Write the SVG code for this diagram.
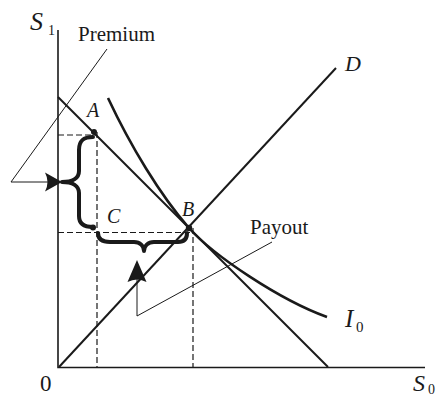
<svg xmlns="http://www.w3.org/2000/svg" width="443" height="398" viewBox="0 0 443 398">
<style>
.ax{stroke:#1a1a1a;stroke-width:1.6;fill:none}
.ln{stroke:#1a1a1a;stroke-width:2;fill:none}
.cv{stroke:#1a1a1a;stroke-width:2.6;fill:none}
.th{stroke:#1a1a1a;stroke-width:1;fill:none}
.ds{stroke:#1a1a1a;stroke-width:1.2;fill:none;stroke-dasharray:6,3}
.br{stroke:#1a1a1a;stroke-width:4;fill:none;stroke-linecap:round;stroke-linejoin:round}
.ah{fill:#1a1a1a;stroke:none}
.dot{fill:#1a1a1a}
text{font-family:"Liberation Serif","Times New Roman",serif;fill:#1a1a1a}
.it{font-style:italic}
</style>
<g id="axes">
<path class="ax" d="M58,30 V367.5 H425"/>
<text class="it" x="30" y="29.5" font-size="26">S</text>
<text x="48" y="35" font-size="14">1</text>
<text class="it" x="413" y="391" font-size="24">S</text>
<text x="428" y="394" font-size="14">0</text>
<text x="40" y="391" font-size="23">0</text>
</g>
<g id="budget-line">
<path class="ln" d="M58,97 L328,367"/>
</g>
<g id="line-D">
<path class="ln" d="M59,367 L336,68"/>
<text class="it" x="345" y="71" font-size="22">D</text>
</g>
<g id="curve-I0">
<path class="cv" d="M108,98 C130,145 160,195 189,228 C214,256 280,300 327,317"/>
<text class="it" x="345" y="327" font-size="25">I</text>
<text x="356" y="332" font-size="15">0</text>
</g>
<g id="guides">
<path class="ds" d="M58,135 H97 M97,132 V367 M58,232.5 H193 M193,228 V367"/>
</g>
<g id="point-A">
<circle class="dot" cx="94" cy="132" r="3"/>
<text class="it" x="87" y="117" font-size="20">A</text>
</g>
<g id="point-C">
<circle class="dot" cx="93" cy="227.5" r="3"/>
<text class="it" x="107" y="223" font-size="20">C</text>
</g>
<g id="point-B">
<circle class="dot" cx="189" cy="228" r="3.2"/>
<text class="it" x="182" y="216" font-size="20">B</text>
</g>
<g id="premium">
<path class="br" d="M93,137 C84,137 79,140 79,150 L79,171 C79,178 73,182 62,182 C73,182 79,186 79,193 L79,216 C79,224 84,227 93,227"/>
<text x="78" y="41" font-size="21">Premium</text>
</g>
<g id="payout">
<path class="br" d="M98,233 C98,239 102,242 110,242 L134,242 C140,242 144,246 144,251 C144,246 148,242 154,242 L178,242 C185,242 187,238 187,233"/>
<text x="250" y="233.5" font-size="21">Payout</text>
</g>
<g id="connectors">
<path class="th" d="M107,49 L11,182 H52"/>
<path class="ah" d="M62,182 L45,172.5 Q50,182 45,191.5 Z"/>
<path class="th" d="M272,242 L137,316 V274"/>
<path class="ah" d="M137,260 L127.5,282 Q137,277 146.5,282 Z"/>
</g>
</svg>
